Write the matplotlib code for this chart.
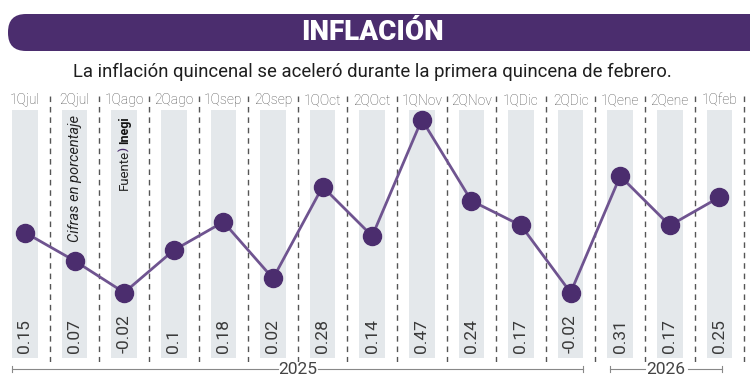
import numpy as np
import matplotlib.pyplot as plt
from matplotlib.patches import FancyBboxPatch

# datos
periodos = ['1Qjul', '2Qjul', '1Qago', '2Qago', '1Qsep', '2Qsep', '1QOct', '2QOct',
            '1QNov', '2QNov', '1QDic', '2QDic', '1Qene', '2Qene', '1Qfeb']
valores = [0.15, 0.07, -0.02, 0.1, 0.18, 0.02, 0.28, 0.14,
           0.47, 0.24, 0.17, -0.02, 0.31, 0.17, 0.25]
etiquetas = ['0.15', '0.07', '-0.02', '0.1', '0.18', '0.02', '0.28', '0.14',
             '0.47', '0.24', '0.17', '-0.02', '0.31', '0.17', '0.25']

titulo = 'INFLACIÓN'
subtitulo = 'La inflación quincenal se aceleró durante la primera quincena de febrero.'

morado = '#4B2D6E'
linea_morada = '#6F5490'
gris_barra = '#E4E8EB'
texto = '#3A3A3A'

plt.rcParams['font.family'] = ['Roboto', 'DejaVu Sans']

W, H = 750, 387
fig = plt.figure(figsize=(W / 100, H / 100), dpi=100)

# capa de fondo en pixeles para la decoracion
bg = fig.add_axes([0, 0, 1, 1])
bg.set_xlim(0, W)
bg.set_ylim(H, 0)
bg.axis('off')

banda = FancyBboxPatch((8, 14), 780, 37, boxstyle='round,pad=0,rounding_size=18',
                       facecolor=morado, edgecolor='none')
bg.add_patch(banda)
bg.text(372, 33, titulo, color='white', fontsize=20, fontweight='heavy',
        ha='center', va='center')
bg.text(372, 72, subtitulo, color='#1E1E1E', fontsize=13.3, ha='center', va='center')

# eje de la grafica
top_px, bot_px = 85, 362
y_top = (285.5 - top_px) / 353
y_bot = (285.5 - bot_px) / 353
ax = fig.add_axes([0, (H - bot_px) / H, 1, (bot_px - top_px) / H])
ax.set_xlim(-25 / 49.6, (W - 25) / 49.6)
ax.set_ylim(y_bot, y_top)
ax.axis('off')

x = np.arange(len(valores))
barra_sup = (285.5 - 110) / 353
barra_inf = (285.5 - 358) / 353
ax.bar(x, barra_sup - barra_inf, bottom=barra_inf, width=0.52, color=gris_barra, zorder=1)

for xi in x:
    ax.axvline(xi + 0.5, ymin=0.0, ymax=0.97, color='#555555', lw=1,
               linestyle=(0, (4, 3.5)), zorder=2)

ax.plot(x, valores, color=linea_morada, lw=2, zorder=3)
ax.plot(x, valores, 'o', color=morado, markersize=13, zorder=4)

y_lab = (285.5 - 100) / 353
y_val = (285.5 - 353) / 353
for xi, p, e in zip(x, periodos, etiquetas):
    ax.text(xi, y_lab, p, ha='center', va='center', fontsize=10, color='#505050',
            fontweight='light')
    ax.text(xi, y_val, e, ha='center', va='bottom', rotation=90, fontsize=12.5,
            color=texto, zorder=5)

# notas rotadas
ax.text(1, (285.5 - 115) / 353, 'Cifras en porcentaje', rotation=90, ha='center',
        va='top', fontsize=10.5, style='italic', color='#222222')
ax.text(2, (285.5 - 190) / 353, 'Fuente', rotation=90, ha='center', va='bottom',
        fontsize=9.5, color='#222222')
ax.text(2, (285.5 - 149) / 353, ')', rotation=90, ha='center', va='center',
        fontsize=8, color=morado, fontweight='bold')
ax.text(2, (285.5 - 116) / 353, 'Inegi', rotation=90, ha='center', va='top',
        fontsize=9, color='#111111', fontweight='bold')

# lineas de anios
gris_l = '#888888'
bg.plot([12, 278], [369, 369], color=gris_l, lw=0.8)
bg.plot([318, 583], [369, 369], color=gris_l, lw=0.8)
bg.plot([12, 12], [366, 372], color=gris_l, lw=0.8)
bg.plot([583, 583], [366, 372], color=gris_l, lw=0.8)
bg.text(298, 369, '2025', ha='center', va='center', fontsize=12.5, color='#444444')
bg.plot([610, 645], [369, 369], color=gris_l, lw=0.8)
bg.plot([688, 722], [369, 369], color=gris_l, lw=0.8)
bg.plot([610, 610], [366, 372], color=gris_l, lw=0.8)
bg.plot([722, 722], [366, 372], color=gris_l, lw=0.8)
bg.text(666, 369, '2026', ha='center', va='center', fontsize=12.5, color='#444444')

fig.savefig('out.png', dpi=100, facecolor='white')
